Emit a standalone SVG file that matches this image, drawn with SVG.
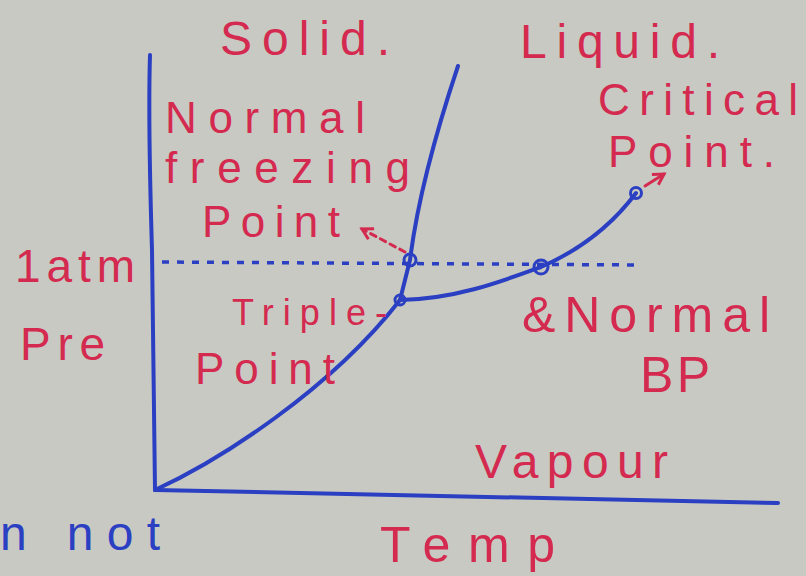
<svg xmlns="http://www.w3.org/2000/svg" width="806" height="576" viewBox="0 0 806 576">
<style>
.t{font-family:"Liberation Sans","DejaVu Sans",sans-serif;fill:#d42a4f;}
.b{fill:none;stroke:#2b3fc2;stroke-width:4;stroke-linecap:round;stroke-linejoin:round;}
.d{fill:none;stroke:#2b3fc2;stroke-width:3.5;stroke-dasharray:7 8;}
.pt{fill:none;stroke:#2b3fc2;stroke-width:3;}
.ra{fill:none;stroke:#d42a4f;stroke-width:3;stroke-linecap:round;}
</style>
<defs>
<marker id="ah" viewBox="0 0 10 10" refX="8" refY="5" markerWidth="5" markerHeight="5" orient="auto">
<path d="M1,1 L8,5 L1,9" fill="none" stroke="#d42a4f" stroke-width="2"/>
</marker>
</defs>
<rect width="806" height="576" fill="#c9c9c3"/>
<g id="connectors">
<path class="b" d="M150,55 Q148,120 152,250 L155,490"/>
<path class="b" d="M155,490 L778,503"/>
<path class="d" d="M162,262 L640,265"/>
<path class="b" d="M458,66 Q420,180 410,260 L400,300"/>
<path class="b" d="M155,490 C220,460 330,390 400,300"/>
<path class="b" d="M400,300 C455,299 500,282 541,267 C580,250 612,225 636,193"/>
<path class="ra" stroke-dasharray="6 5" d="M405,252 L362,229" marker-end="url(#ah)"/>
<path class="ra" d="M645,186 L664,174" marker-end="url(#ah)"/>
</g>
<g id="points">
<circle class="pt" cx="410" cy="260" r="6"/>
<circle class="pt" cx="541" cy="267" r="7"/>
<circle class="pt" cx="400" cy="300" r="5"/>
<circle class="pt" cx="636" cy="193" r="5.5"/>
</g>
<g id="solid"><text class="t" x="220" y="55" font-size="48" textLength="170" lengthAdjust="spacing">Solid.</text></g>
<g id="liquid"><text class="t" x="520" y="58" font-size="48" textLength="200" lengthAdjust="spacing">Liquid.</text></g>
<g id="freezing">
<text class="t" x="165" y="133" font-size="44" textLength="200" lengthAdjust="spacing">Normal</text>
<text class="t" x="165" y="183" font-size="44" textLength="245" lengthAdjust="spacing">freezing</text>
<text class="t" x="202" y="237" font-size="44" textLength="138" lengthAdjust="spacing">Point</text>
</g>
<g id="critical">
<text class="t" x="598" y="115" font-size="44" textLength="200" lengthAdjust="spacing">Critical</text>
<text class="t" x="608" y="167" font-size="44" textLength="167" lengthAdjust="spacing">Point.</text>
</g>
<g id="atm"><text class="t" x="15" y="282" font-size="46" textLength="120" lengthAdjust="spacing">1atm</text></g>
<g id="pre"><text class="t" x="20" y="360" font-size="46" textLength="85" lengthAdjust="spacing">Pre</text></g>
<g id="triple">
<text class="t" x="232" y="325" font-size="36" textLength="155" lengthAdjust="spacing">Triple-</text>
<text class="t" x="195" y="384" font-size="44" textLength="140" lengthAdjust="spacing">Point</text>
</g>
<g id="bp">
<text class="t" x="522" y="332" font-size="50" textLength="248" lengthAdjust="spacing">&amp;Normal</text>
<text class="t" x="640" y="392" font-size="50" textLength="70" lengthAdjust="spacing">BP</text>
</g>
<g id="vapour"><text class="t" x="475" y="478" font-size="48" textLength="193" lengthAdjust="spacing">Vapour</text></g>
<g id="temp"><text class="t" x="380" y="562" font-size="50" textLength="175" lengthAdjust="spacing">Temp</text></g>
<g id="note"><text x="0" y="550" font-family="Liberation Sans, sans-serif" font-size="48" fill="#2b3fc2" textLength="160" lengthAdjust="spacing">n not</text></g>
</svg>
